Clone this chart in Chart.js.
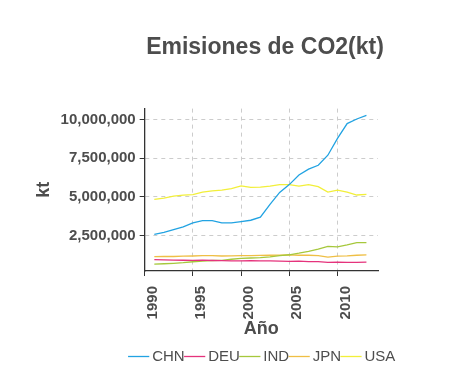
<!DOCTYPE html>
<html>
<head>
<meta charset="utf-8">
<script src="https://cdn.jsdelivr.net/npm/chart.js@4"></script>
<style>
html,body{margin:0;padding:0;background:#fff;}
#wrap{width:472px;height:385px;}
</style>
</head>
<body>
<div id="wrap"><canvas id="c" width="472" height="385"></canvas></div>
<script>
const years = [1991,1992,1993,1994,1995,1996,1997,1998,1999,2000,2001,2002,2003,2004,2005,2006,2007,2008,2009,2010,2011,2012,2013];
const CHN = [2580000,2700000,2880000,3060000,3320000,3460000,3470000,3320000,3320000,3400000,3490000,3690000,4520000,5290000,5790000,6410000,6790000,7040000,7690000,8780000,9730000,10030000,10260000];
const DEU = [950000,930000,920000,905000,900000,910000,890000,880000,870000,870000,880000,870000,865000,855000,835000,845000,820000,820000,770000,790000,770000,770000,790000];
const IND = [660000,680000,710000,750000,810000,850000,890000,900000,970000,1030000,1050000,1080000,1130000,1210000,1260000,1360000,1480000,1630000,1800000,1770000,1900000,2050000,2040000];
const JPN = [1140000,1150000,1150000,1170000,1180000,1200000,1200000,1180000,1190000,1210000,1200000,1220000,1230000,1240000,1250000,1230000,1230000,1200000,1110000,1170000,1190000,1230000,1250000];
const USA = [4840000,4920000,5050000,5110000,5140000,5300000,5390000,5440000,5530000,5710000,5610000,5630000,5690000,5790000,5790000,5700000,5790000,5660000,5310000,5430000,5310000,5120000,5160000];
const seriesNames = ['CHN','DEU','IND','JPN','USA'];
const seriesData = [CHN, DEU, IND, JPN, USA];
const colors = ['#22a3e2','#e5337c','#a6c83c','#efbf45','#f2ef3a'];
const xTicks = [1990,1995,2000,2005,2010];
const yTicks = [2500000,5000000,7500000,10000000];

const datasets = seriesNames.map((n,i)=>({
  label:n,
  data: years.map((y,j)=>({x:y,y:seriesData[i][j]})),
  borderColor: colors[i],
  backgroundColor: colors[i],
  borderWidth: 1.3,
  pointRadius: 0,
  tension: 0,
  fill:false
}));

const FAM = '"Liberation Sans", Arial, sans-serif';
const tickFont = {family:FAM, size:15, weight:'bold'};
const textColor = '#4d4d4d';

// shift the title and legend boxes so they are centred like the reference
const centerShift = {
  id:'centerShift',
  afterLayout(chart){
    const w = chart.width;
    const tc = 265, lc = 264;
    if (chart.titleBlock){
      const tb = chart.titleBlock;
      const half = Math.min(tc, w - tc);
      tb.left = tc - half; tb.right = tc + half; tb.width = 2*half;
    }
    if (chart.legend){
      const lg = chart.legend;
      const half = Math.min(lc, w - lc);
      lg.left = lc - half; lg.right = lc + half; lg.width = 2*half;
    }
  }
};

new Chart(document.getElementById('c'), {
  type:'line',
  data:{datasets},
  plugins:[centerShift],
  options:{
    responsive:false,
    animation:false,
    layout:{padding:{left:33,right:94,top:0,bottom:11}},
    plugins:{
      title:{display:true,text:'Emisiones de CO2(kt)',color:textColor,
        font:{family:FAM,size:23,weight:'bold'},
        padding:{top:34,bottom:47}},
      legend:{position:'bottom',
        labels:{usePointStyle:true,pointStyle:'line',boxWidth:12,color:textColor,
          font:{family:FAM,size:15},padding:4}},
      tooltip:{enabled:false}
    },
    scales:{
      x:{type:'linear',min:1990,max:2014.2,
        afterBuildTicks:(s)=>{s.ticks=xTicks.map(v=>({value:v}));},
        ticks:{color:textColor,font:tickFont,minRotation:90,maxRotation:90,labelOffset:8,padding:10,
          callback:(v)=>String(v)},
        grid:{color:'#cccccc',tickColor:'#333',tickLength:5,tickWidth:1},
        border:{color:'#333',width:1.3,dash:[4,4]},
        title:{display:true,text:'Año',color:textColor,
          font:{family:FAM,size:18,weight:'bold'},padding:{top:-11,bottom:5}}
      },
      y:{min:210000,max:10700000,
        afterBuildTicks:(s)=>{s.ticks=yTicks.map(v=>({value:v}));},
        ticks:{color:textColor,font:tickFont,padding:4,
          callback:(v)=>v.toLocaleString('en-US')},
        grid:{color:'#cccccc',tickColor:'#333',tickLength:5,tickWidth:1},
        border:{color:'#333',width:1.3,dash:[4,4]},
        title:{display:true,text:'kt',color:textColor,
          font:{family:FAM,size:18,weight:'bold'},padding:{top:0,bottom:2}}
      }
    }
  }
});
</script>
</body>
</html>
